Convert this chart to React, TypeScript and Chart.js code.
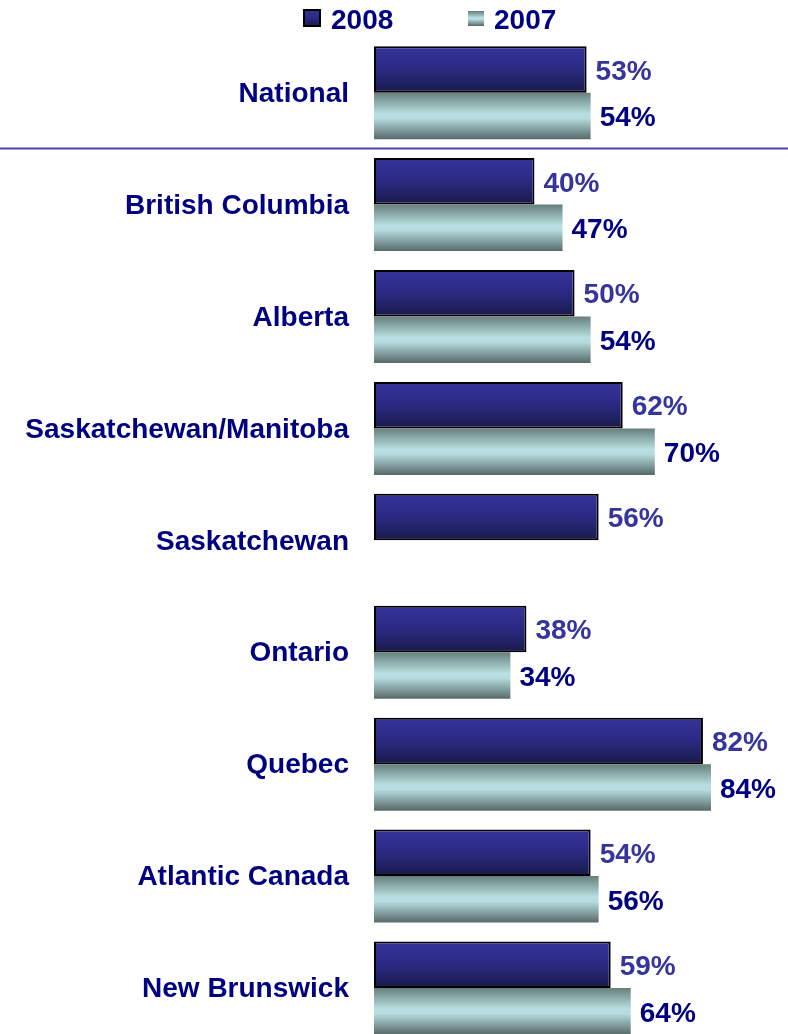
import React, { useEffect, useRef } from "react";
import { Chart, registerables } from "chart.js";

Chart.register(...registerables);

const categories = [
  "National",
  "British Columbia",
  "Alberta",
  "Saskatchewan/Manitoba",
  "Saskatchewan",
  "Ontario",
  "Quebec",
  "Atlantic Canada",
  "New Brunswick",
];
const seriesNames = ["2008", "2007"];
const values2008: (number | null)[] = [53, 40, 50, 62, 56, 38, 82, 54, 59];
const values2007: (number | null)[] = [54, 47, 54, 70, null, 34, 84, 56, 64];

const FONT = '"Liberation Sans", Arial, sans-serif';
const FONT_SIZE = 28;
const CAT_PCT = 0.831;

function grad2008(ctx: CanvasRenderingContext2D, top: number, bottom: number) {
  const g = ctx.createLinearGradient(0, top, 0, bottom);
  g.addColorStop(0, "#34349a");
  g.addColorStop(0.45, "#2b2b86");
  g.addColorStop(1, "#1a1a4c");
  return g;
}
function grad2007(ctx: CanvasRenderingContext2D, top: number, bottom: number) {
  const g = ctx.createLinearGradient(0, top, 0, bottom);
  g.addColorStop(0, "#677f7d");
  g.addColorStop(0.45, "#b8dfe1");
  g.addColorStop(0.55, "#b5dcde");
  g.addColorStop(1, "#576968");
  return g;
}

function barBg(dsIndex: number) {
  return (c: any) => {
    const fallback = dsIndex === 0 ? "#2b2b85" : "#9fc4c6";
    const chart = c.chart;
    const y = chart.scales?.y;
    if (!y || c.dataIndex === undefined) return fallback;
    const center = y.getPixelForValue(c.dataIndex);
    const pitch = y.height / categories.length;
    if (!isFinite(center) || !isFinite(pitch) || pitch <= 0) return fallback;
    const half = (pitch * CAT_PCT) / 2;
    const top = dsIndex === 0 ? center - half : center;
    const bottom = dsIndex === 0 ? center : center + half;
    return dsIndex === 0 ? grad2008(chart.ctx, top, bottom) : grad2007(chart.ctx, top, bottom);
  };
}

const extrasPlugin = {
  id: "extras",
  afterDatasetsDraw(chart: any) {
    const ctx: CanvasRenderingContext2D = chart.ctx;
    ctx.save();
    ctx.font = `bold ${FONT_SIZE}px ${FONT}`;
    ctx.textBaseline = "middle";
    ctx.textAlign = "left";
    chart.data.datasets.forEach((ds: any, di: number) => {
      const meta = chart.getDatasetMeta(di);
      meta.data.forEach((el: any, i: number) => {
        const v = ds.data[i];
        if (v === null || v === undefined) return;
        ctx.fillStyle = di === 0 ? "#35359b" : "#000080";
        ctx.fillText(`${v}%`, el.x + 9, el.y + 2.5);
      });
    });
    const y = chart.scales.y;
    const sepY = (y.getPixelForValue(0) + y.getPixelForValue(1)) / 2;
    ctx.strokeStyle = "#4646aa";
    ctx.lineWidth = 2;
    ctx.beginPath();
    ctx.moveTo(0, sepY);
    ctx.lineTo(chart.width, sepY);
    ctx.stroke();
    const items = [
      { x: 303, w: 18, h: 18, top: 9, text: seriesNames[0], first: true },
      { x: 468, w: 16, h: 15, top: 11, text: seriesNames[1], first: false },
    ];
    items.forEach((it) => {
      if (it.first) {
        ctx.fillStyle = grad2008(ctx, it.top, it.top + it.h);
        ctx.fillRect(it.x, it.top, it.w, it.h);
        ctx.strokeStyle = "#000";
        ctx.lineWidth = 2;
        ctx.strokeRect(it.x + 1, it.top + 1, it.w - 2, it.h - 2);
      } else {
        ctx.fillStyle = grad2007(ctx, it.top, it.top + it.h);
        ctx.fillRect(it.x, it.top, it.w, it.h);
      }
      ctx.fillStyle = "#000080";
      ctx.textBaseline = "middle";
      ctx.fillText(it.text, it.x + it.w + 10, 21.5);
    });
    ctx.restore();
  },
};

export default function App() {
  const ref = useRef<HTMLCanvasElement | null>(null);
  useEffect(() => {
    if (!ref.current) return;
    const chart = new Chart(ref.current, {
      type: "bar",
      data: {
        labels: categories,
        datasets: [
          {
            label: seriesNames[0],
            data: values2008,
            backgroundColor: barBg(0),
            borderColor: "#000000",
            borderWidth: 2,
            borderSkipped: false,
            categoryPercentage: CAT_PCT,
            barPercentage: 1,
          },
          {
            label: seriesNames[1],
            data: values2007,
            backgroundColor: barBg(1),
            borderWidth: 0,
            categoryPercentage: CAT_PCT,
            barPercentage: 1,
          },
        ],
      },
      options: {
        indexAxis: "y",
        responsive: false,
        animation: false,
        devicePixelRatio: 1,
        layout: { padding: { top: 36.7, bottom: 31, left: 0, right: 0 } },
        plugins: {
          legend: { display: false },
          tooltip: { enabled: false },
        },
        scales: {
          x: { display: false, min: 0, max: 103.2 },
          y: {
            type: "category",
            grid: { display: false, drawTicks: false },
            border: { display: false },
            ticks: {
              color: "#000080",
              font: { family: FONT, size: FONT_SIZE, weight: "bold", lineHeight: 0.4 },
              padding: 25,
              labelOffset: 1.5,
              autoSkip: false,
            },
            afterFit: (s: any) => {
              s.width = 374;
            },
          },
        },
      },
      plugins: [extrasPlugin],
    });
    return () => chart.destroy();
  }, []);
  return (
    <div
      style={{
        position: "fixed",
        left: 0,
        top: 0,
        width: 788,
        height: 1034,
        overflow: "hidden",
        background: "#ffffff",
      }}
    >
      <canvas ref={ref} width={788} height={1075} style={{ display: "block" }} />
    </div>
  );
}
